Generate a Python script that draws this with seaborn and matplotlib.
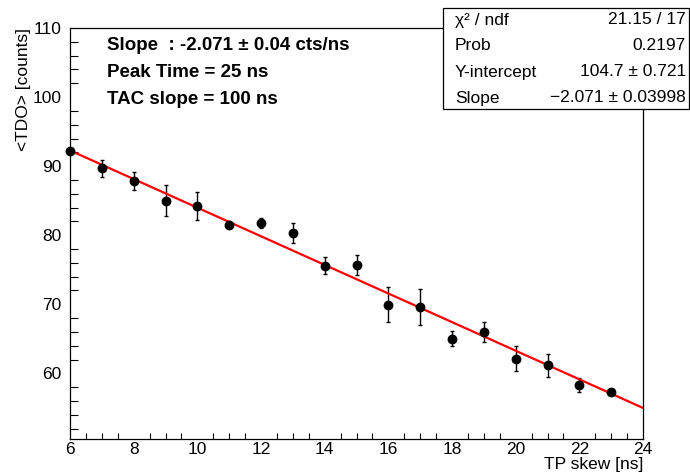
import numpy as np
import pandas as pd
import matplotlib
matplotlib.use("Agg")
import matplotlib.pyplot as plt
import seaborn as sns
from matplotlib.patches import Rectangle
from matplotlib.ticker import MultipleLocator


# TP skew scan: mean TDO per skew value with error bars
tp_skew = [6, 7, 8, 9, 10, 11, 12, 13, 14, 15, 16, 17, 18, 19, 20, 21, 22, 23]
tdo_mean = [92.25, 89.7, 87.9, 85.0, 84.25, 81.55, 81.75, 80.3, 75.6, 75.7,
            69.95, 69.6, 65.0, 66.0, 62.1, 61.15, 58.3, 57.3]
tdo_err = [0.3, 1.25, 1.3, 2.25, 2.05, 0.55, 0.77, 1.47, 1.2, 1.5,
           2.5, 2.6, 1.1, 1.5, 1.8, 1.66, 1.03, 0.4]

# Linear fit results
fit_intercept = 104.7
fit_slope = -2.071
fit_range = [6, 24]

stats_names = ["χ² / ndf", "Prob", "Y-intercept", "Slope"]
stats_values = ["21.15 / 17", "0.2197", "104.7 ± 0.721", "−2.071 ± 0.03998"]

info_lines = ["Slope  : -2.071 ± 0.04 cts/ns",
              "Peak Time = 25 ns",
              "TAC slope = 100 ns"]

W, H = 690, 472


def fx(px):
    return px / W


def fy(py):
    return 1 - py / H


sns.set_theme(style="white", rc={"text.color": "black", "axes.labelcolor": "black",
                                 "xtick.color": "black", "ytick.color": "black"})
plt.rcParams["font.family"] = ["Liberation Sans", "DejaVu Sans"]

df = pd.DataFrame({"skew": tp_skew, "tdo": tdo_mean, "err": tdo_err})
fit_x = np.array(fit_range, dtype=float)
fit_df = pd.DataFrame({"skew": fit_x, "tdo": fit_intercept + fit_slope * fit_x})

fig = plt.figure(figsize=(6.9, 4.72), dpi=100)
ax = fig.add_axes([fx(70), fy(439), fx(643) - fx(70), fy(28) - fy(439)])

ax.errorbar(df["skew"], df["tdo"], yerr=df["err"], fmt="none",
            ecolor="black", elinewidth=1.0, capsize=1.5, capthick=1.0, zorder=2)
sns.lineplot(data=fit_df, x="skew", y="tdo", color="red", linewidth=1.6,
             ax=ax, zorder=3)
sns.scatterplot(data=df, x="skew", y="tdo", color="black", s=50,
                edgecolor="black", linewidth=0, ax=ax, zorder=4, clip_on=False)

ax.set_xlim(6, 24)
ax.set_ylim(50.5, 110)
ax.xaxis.set_major_locator(MultipleLocator(2))
ax.xaxis.set_minor_locator(MultipleLocator(0.5))
ax.yaxis.set_major_locator(MultipleLocator(10))
ax.yaxis.set_minor_locator(MultipleLocator(2))
ax.tick_params(axis="x", which="major", direction="in", length=8.5, width=0.8,
               color="black", labelcolor="black", labelsize=12.5, pad=2, top=False)
ax.tick_params(axis="x", which="minor", direction="in", length=4.3, width=0.8,
               color="black", top=False, bottom=True)
ax.tick_params(axis="y", which="major", direction="in", length=12, width=0.8,
               color="black", labelcolor="black", labelsize=12.5, pad=6, right=False)
ax.tick_params(axis="y", which="minor", direction="in", length=6, width=0.8,
               color="black", right=False, left=True)
for sp in ax.spines.values():
    sp.set_color("black")
    sp.set_linewidth(0.9)

ax.set_xlabel("TP skew [ns]", loc="right", fontsize=12.5, labelpad=0, color="black")
ax.set_ylabel("<TDO> [counts]", loc="top", fontsize=12.5, labelpad=1, color="black")

# fit info text
for i, line in enumerate(info_lines):
    fig.text(fx(107), fy(46 + 26.5 * i), line, fontsize=13.5, fontweight="bold",
             ha="left", va="center", color="black")

# stats box
fig.add_artist(Rectangle((fx(443), fy(109)), fx(689) - fx(443), fy(8) - fy(109),
                         transform=fig.transFigure, facecolor="white",
                         edgecolor="black", linewidth=0.9, zorder=5))
for i, (name, val) in enumerate(zip(stats_names, stats_values)):
    y = fy(20 + 26 * i)
    fig.text(fx(455), y, name, fontsize=12.5, ha="left", va="center", zorder=6,
             color="black")
    fig.text(fx(686), y, val, fontsize=12.5, ha="right", va="center", zorder=6,
             color="black")

fig.savefig("out.png", dpi=100)
